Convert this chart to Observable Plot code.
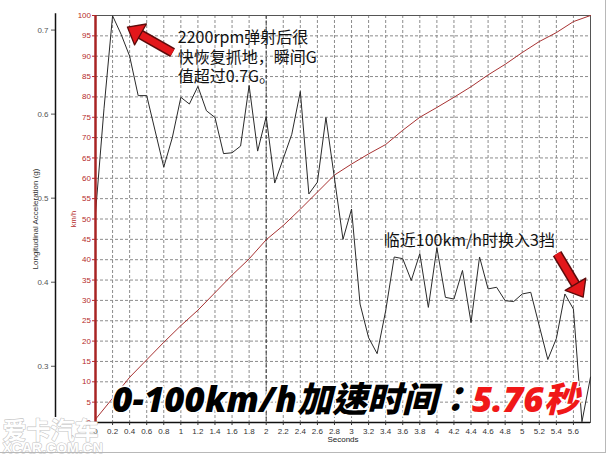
<!DOCTYPE html>
<html><head><meta charset="utf-8">
<script src="https://cdn.jsdelivr.net/npm/d3@7"></script>
<script src="https://cdn.jsdelivr.net/npm/@observablehq/plot@0.6"></script>
<style>
body{margin:0;background:#fff;}
#wrap{position:relative;width:608px;height:455px;}
#edge{position:absolute;left:0;top:0;width:605px;height:452px;border-right:1px solid #b8b8b8;border-bottom:1px solid #b8b8b8;pointer-events:none;}
</style></head><body><div id="wrap"><div id="edge"></div></div>
<script>
// Longitudinal acceleration (g) vs seconds
const gTime = [0, 0.1, 0.2, 0.3, 0.4, 0.5, 0.6, 0.8, 0.9, 1.0, 1.1, 1.2, 1.3, 1.4, 1.5, 1.6, 1.7, 1.8, 1.9, 2.0, 2.1, 2.3, 2.4, 2.5, 2.6, 2.7, 2.9, 3.0, 3.1, 3.2, 3.3, 3.4, 3.5, 3.6, 3.7, 3.8, 3.9, 4.0, 4.1, 4.2, 4.3, 4.4, 4.5, 4.6, 4.7, 4.8, 4.9, 5.0, 5.1, 5.3, 5.4, 5.5, 5.6, 5.7, 5.8];
const gValues = [0.482, 0.607, 0.717, 0.695, 0.669, 0.622, 0.622, 0.537, 0.572, 0.620, 0.612, 0.633, 0.604, 0.596, 0.553, 0.554, 0.562, 0.634, 0.556, 0.597, 0.518, 0.576, 0.627, 0.505, 0.519, 0.596, 0.451, 0.487, 0.374, 0.334, 0.315, 0.366, 0.430, 0.428, 0.402, 0.434, 0.370, 0.441, 0.382, 0.380, 0.414, 0.352, 0.430, 0.392, 0.394, 0.378, 0.377, 0.386, 0.388, 0.308, 0.333, 0.386, 0.368, 0.234, 0.287];
// Speed (km/h) vs seconds
const speedTime = [0, 0.4, 0.8, 1.0, 1.2, 1.6, 1.8, 2.0, 2.2, 2.4, 2.8, 3.0, 3.2, 3.4, 3.6, 3.8, 4.0, 4.2, 4.4, 4.6, 4.8, 5.0, 5.2, 5.4, 5.6, 5.8];
const speedValues = [0.8, 11.1, 19.7, 23.8, 27.6, 36.2, 40.2, 44.9, 48.4, 52.4, 60.8, 63.5, 66.0, 68.3, 71.8, 75.0, 77.4, 79.9, 82.5, 85.4, 88.0, 90.9, 93.6, 95.8, 98.5, 100];
// Tick labels
const xTicks = [0, 0.2, 0.4, 0.6, 0.8, 1, 1.2, 1.4, 1.6, 1.8, 2, 2.2, 2.4, 2.6, 2.8, 3, 3.2, 3.4, 3.6, 3.8, 4, 4.2, 4.4, 4.6, 4.8, 5, 5.2, 5.4, 5.6];
const kmhTicks = [0, 5, 10, 15, 20, 25, 30, 35, 40, 45, 50, 55, 60, 65, 70, 75, 80, 85, 90, 95, 100];
const gTicks = [0.3, 0.4, 0.5, 0.6, 0.7];
// Annotations
const noteTexts = ["2200rpm弹射后很\n快恢复抓地，瞬间G\n值超过0.7G。", "临近100km/h时换入3挡"];
const noteX = [0.965, 3.378];
const noteY = [96.5, 46.8];
const arrowTailX = [0.903, 5.409];
const arrowTailY = [90.9, 41.5];
const arrowBaseX = [0.522, 5.627];
const arrowBaseY = [95.4, 33.86];
const titleBlack = "0-100km/h加速时间：";
const titleRed = "5.76秒";

// g -> km/h position on the shared vertical scale
const gToKmh = g => 13.82 + (g - 0.3) * 206.5;
const kmhToG = v => 0.3 + (v - 13.82) / 206.5;

const gData = gTime.map((t, i) => ({t, g: gValues[i]}));
const speedData = speedTime.map((t, i) => ({t, v: speedValues[i]}));
const notes = noteTexts.map((s, i) => ({s, x: noteX[i], y: noteY[i]}));
const arrows = arrowTailX.map((x, i) => ({x1: x, y1: arrowTailY[i], x2: arrowBaseX[i], y2: arrowBaseY[i]}));

const blockHead = () => {
  const m = d3.create("svg:marker")
    .attr("viewBox", "-1 -13 17 26")
    .attr("refX", 0.5).attr("refY", 0)
    .attr("markerWidth", 17).attr("markerHeight", 26)
    .attr("markerUnits", "userSpaceOnUse")
    .attr("orient", "auto")
    .attr("overflow", "visible");
  m.append("path").attr("d", "M0,-12L15,0L0,12Z")
    .attr("fill", "#e3171b").attr("stroke", "#5c0b0b").attr("stroke-width", 1.3).attr("stroke-linejoin", "round");
  return m.node();
};

const grid = {stroke: "#8c8c8c", strokeOpacity: 1, strokeDasharray: "3,2"};
const titleFont = "'Open Sans', 'Noto Sans CJK TC', sans-serif";

const chart = Plot.plot({
  width: 608, height: 455,
  marginLeft: 95, marginRight: 18, marginTop: 15, marginBottom: 33,
  style: {background: "white", overflow: "visible", fontFamily: "'Liberation Sans', Arial, sans-serif"},
  x: {domain: [0, 5.8], axis: null},
  y: {domain: [0, 100], axis: null},
  marks: [
    Plot.gridX({ticks: xTicks.filter(d => d > 0), ...grid}),
    Plot.gridY({ticks: kmhTicks.filter(d => d > 0 && d < 100), ...grid}),
    Plot.ruleX([2], {stroke: "#3a3a3a", strokeDasharray: "4,2"}),
    Plot.frame({stroke: "#555"}),
    Plot.line(speedData, {x: "t", y: "v", stroke: "#a83232", strokeWidth: 1}),
    Plot.line(gData, {x: "t", y: d => gToKmh(d.g), stroke: "#2a2a2a", strokeWidth: 1}),
    Plot.ruleX([0], {stroke: "#a82424", strokeWidth: 2.5}),
    Plot.ruleY([0], {stroke: "#111", strokeWidth: 1.5}),
    Plot.axisX({ticks: xTicks, tickFormat: d => String(d), tickSize: 3, tickPadding: 3, fontSize: 8, color: "#333", label: null}),
    Plot.axisY({ticks: kmhTicks, tickFormat: d => String(d), tickSize: 3, tickPadding: 1.5, fontSize: 8, color: "#b52a2a", label: null}),
    Plot.axisY({ticks: gTicks.map(gToKmh), tickFormat: v => d3.format(".1f")(kmhToG(v)), dx: -40, tickSize: 4, tickPadding: 3, fontSize: 8, color: "#555", label: null}),
    Plot.ruleX([0], {y1: 1.2, y2: 100.4, dx: -40, stroke: "#111", strokeWidth: 1.5}),
    Plot.text(["Longitudinal Acceleration (g)"], {x: 0, y: 50, dx: -60, rotate: -90, fontSize: 8, fill: "#333"}),
    Plot.text(["km/h"], {x: 0, y: 50, dx: -22, rotate: -90, fontSize: 7.5, fill: "#b52a2a"}),
    Plot.text(["Seconds"], {frameAnchor: "bottom", dy: 19, fontSize: 8, fill: "#222"}),
    Plot.link(arrows, {x1: "x1", y1: "y1", x2: "x2", y2: "y2", stroke: "#5c0b0b", strokeWidth: 10}),
    Plot.link(arrows, {x1: "x1", y1: "y1", x2: "x2", y2: "y2", stroke: "#e3171b", strokeWidth: 7, markerEnd: blockHead}),
    Plot.text(notes, {x: "x", y: "y", text: "s", textAnchor: "start", lineAnchor: "top", lineHeight: 1.2, fontSize: 16, fill: "#111", fontFamily: "'Noto Sans CJK SC', sans-serif"}),
    Plot.text([titleBlack], {x: 4.412, y: 2.53, textAnchor: "end", lineAnchor: "bottom", fontSize: 35, fontWeight: 800, fontStyle: "italic", fill: "#000", stroke: "white", strokeWidth: 3, fontFamily: titleFont}),
    Plot.text([titleRed], {x: 4.412, y: 2.53, textAnchor: "start", lineAnchor: "bottom", fontSize: 35, fontWeight: 800, fontStyle: "italic", fill: "#f01818", stroke: "white", strokeWidth: 3, fontFamily: titleFont}),
    Plot.text(["爱卡汽车"], {frameAnchor: "bottom-left", dx: -93, dy: 16, textAnchor: "start", lineAnchor: "bottom", fontSize: 24, fontWeight: 700, fill: "white", stroke: "#c4c4c4", strokeWidth: 1.2, fontFamily: "'Noto Sans CJK SC', sans-serif"}),
    Plot.text(["XCAR.COM.CN"], {frameAnchor: "bottom-left", dx: -93, dy: 30, textAnchor: "start", lineAnchor: "bottom", fontSize: 14, fontWeight: 700, fill: "white", stroke: "#c4c4c4", strokeWidth: 1.2})
  ]
});
const wrap = document.getElementById("wrap");
wrap.insertBefore(chart, wrap.firstChild);
</script>
</body></html>
